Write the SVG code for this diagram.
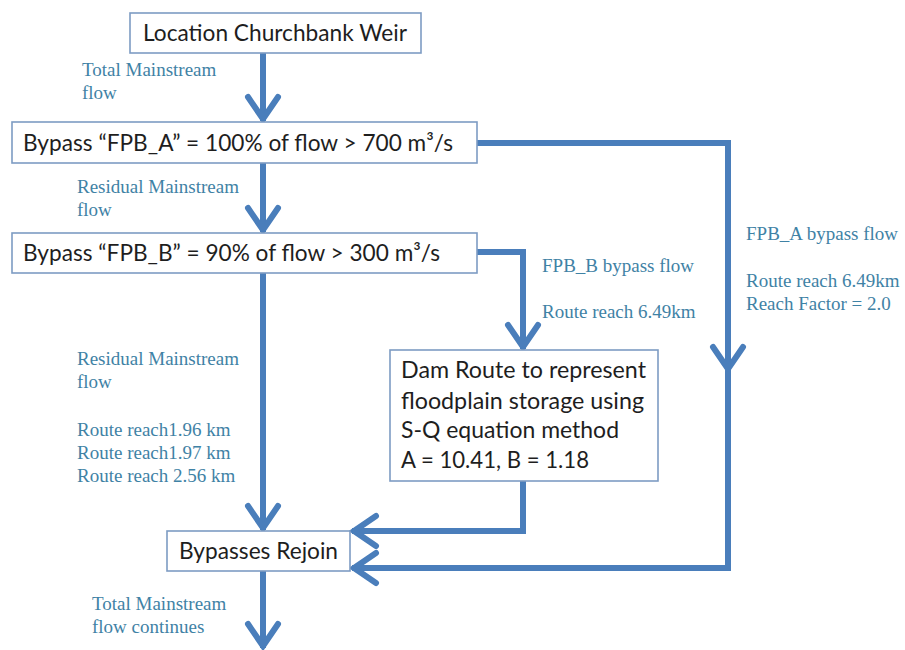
<svg xmlns="http://www.w3.org/2000/svg" width="905" height="650" viewBox="0 0 905 650">
<defs>
<style>
.box{fill:#ffffff;stroke:#7d9cc3;stroke-width:1.6}
.bt{font-family:Lato,"Open Sans","Liberation Sans",sans-serif;font-size:23px;fill:#1e1e1e}
.lb{font-family:"Liberation Serif","DejaVu Serif",serif;font-size:19px;fill:#3f82a5}
.cn{fill:none;stroke:#4a7ebb;stroke-width:6;stroke-linejoin:miter;marker-end:url(#ah)}
</style>
<marker id="ah" markerUnits="userSpaceOnUse" markerWidth="40" markerHeight="40" viewBox="-30 -20 34 40" refX="0" refY="0" orient="auto" overflow="visible">
<path d="M-24,-15 L-2,0 L-24,15" fill="none" stroke="#4a7ebb" stroke-width="6" stroke-linecap="round"/>
</marker>
</defs>
<rect width="905" height="650" fill="#ffffff"/>
<g id="connectors">
<path class="cn" d="M263,53 V121"/>
<path class="cn" d="M263,163 V232"/>
<path class="cn" d="M477,143 H728 V371"/>
<path class="cn" d="M728,371 V568 H352"/>
<path class="cn" d="M477,252 H523 V349"/>
<path class="cn" d="M523,481 V531 H352"/>
<path class="cn" d="M263,273 V530"/>
<path class="cn" d="M263,571 V648"/>
</g>
<g id="n-location">
<rect class="box" x="130" y="13" width="291" height="40"/>
<text class="bt" x="143" y="41" textLength="264" lengthAdjust="spacingAndGlyphs">Location Churchbank Weir</text>
</g>
<g id="n-fpba">
<rect class="box" x="12" y="122" width="465" height="41"/>
<text class="bt" x="23" y="151" textLength="430" lengthAdjust="spacingAndGlyphs">Bypass “FPB_A” = 100% of flow &gt; 700 m³/s</text>
</g>
<g id="n-fpbb">
<rect class="box" x="12" y="233" width="465" height="40"/>
<text class="bt" x="23" y="261" textLength="417" lengthAdjust="spacingAndGlyphs">Bypass “FPB_B” = 90% of flow &gt; 300 m³/s</text>
</g>
<g id="n-dam">
<rect class="box" x="390" y="350" width="268" height="131"/>
<text class="bt" x="401" y="378" textLength="245" lengthAdjust="spacingAndGlyphs">Dam Route to represent</text>
<text class="bt" x="401" y="409" textLength="243" lengthAdjust="spacingAndGlyphs">floodplain storage using</text>
<text class="bt" x="401" y="438" textLength="218" lengthAdjust="spacingAndGlyphs">S-Q equation method</text>
<text class="bt" x="401" y="468" textLength="188" lengthAdjust="spacingAndGlyphs">A = 10.41, B = 1.18</text>
</g>
<g id="n-rejoin">
<rect class="box" x="167" y="531" width="183" height="40"/>
<text class="bt" x="179" y="559" textLength="159" lengthAdjust="spacingAndGlyphs">Bypasses Rejoin</text>
</g>
<g id="labels">
<text class="lb" x="82" y="76">Total Mainstream</text>
<text class="lb" x="82" y="99">flow</text>
<text class="lb" x="77" y="193">Residual Mainstream</text>
<text class="lb" x="77" y="216">flow</text>
<text class="lb" x="542" y="272">FPB_B bypass flow</text>
<text class="lb" x="542" y="318">Route reach 6.49km</text>
<text class="lb" x="746" y="240">FPB_A bypass flow</text>
<text class="lb" x="746" y="287">Route reach 6.49km</text>
<text class="lb" x="746" y="310">Reach Factor = 2.0</text>
<text class="lb" x="77" y="365">Residual Mainstream</text>
<text class="lb" x="77" y="388">flow</text>
<text class="lb" x="77" y="436">Route reach1.96 km</text>
<text class="lb" x="77" y="459">Route reach1.97 km</text>
<text class="lb" x="77" y="482">Route reach 2.56 km</text>
<text class="lb" x="92" y="610">Total Mainstream</text>
<text class="lb" x="92" y="633">flow continues</text>
</g>
</svg>
